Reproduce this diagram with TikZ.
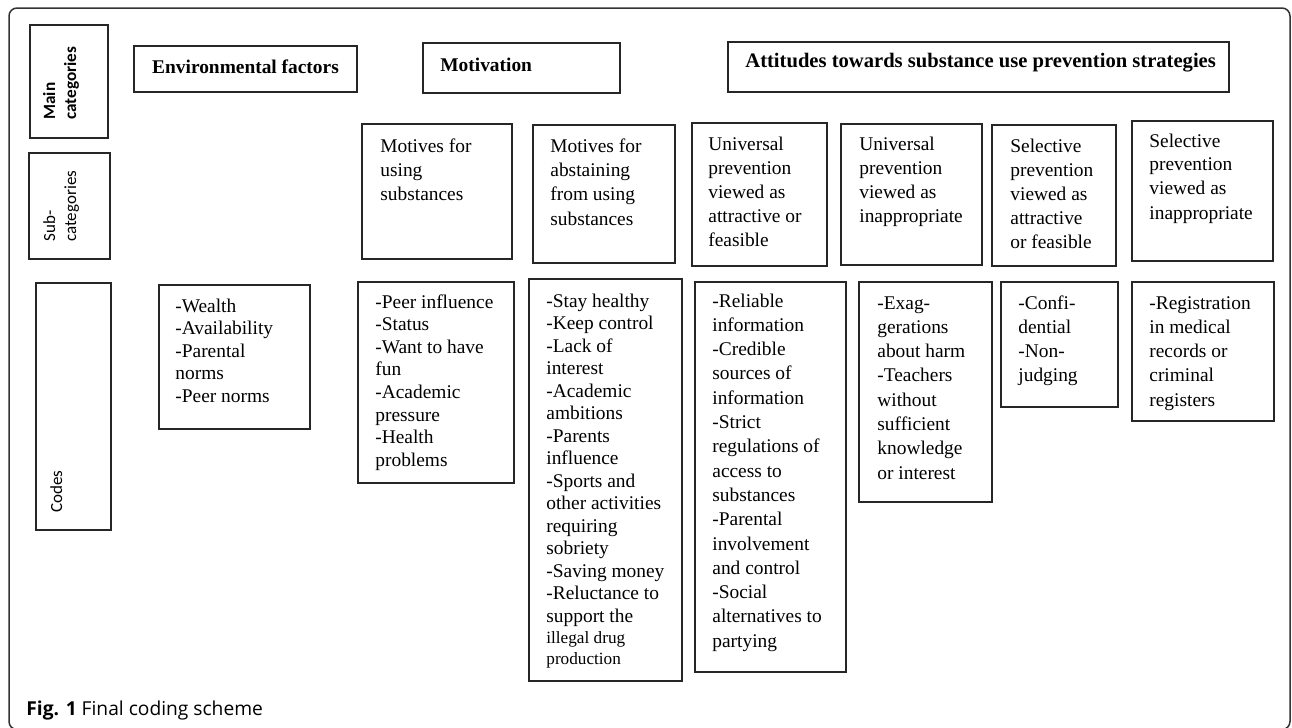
\documentclass[tikz,border=0pt]{standalone}
\usepackage{fontspec}
\usepackage{graphicx}
\setmainfont{Liberation Serif}
\newfontfamily\labfont{Carlito}
\newfontfamily\capfont{Open Sans}
\usetikzlibrary{fit}
\newcommand\lns[1]{\parbox[t]{130pt}{\raggedright #1}}
\begin{document}
\begin{tikzpicture}[x=0.5pt,y=-0.5pt,
  box/.style={draw=black!85, line width=0.75pt, inner sep=0pt},
  txt/.style={anchor=base west, inner sep=0pt},
  subf/.style={font=\fontsize{9.7}{12.25}\selectfont},
  subr/.style={font=\fontsize{9.7}{12.0}\selectfont},
  codl/.style={font=\fontsize{9.7}{11.3}\selectfont},
  codr/.style={font=\fontsize{9.7}{12.15}\selectfont},
  headf/.style={font=\bfseries\fontsize{9.7}{12}\selectfont},
  labf/.style={anchor=base west, inner sep=0pt, rotate=90, font=\labfont\fontsize{8.5}{10.5}\selectfont}]
\useasboundingbox (0,0) rectangle (1292,728);
\clip (0,0) rectangle (1292,728);
\draw[line width=0.75pt, black!80, rounded corners=4pt] (9,8) rectangle (1290,729.5);

% left labels
\node[box, fit={(30,25)(108,138)}] (mainlab) {};
\node[box, fit={(29,153)(110,259)}] (sublab) {};
\node[box, fit={(36,283)(111,530)}] (codlab) {};
\node[labf, font=\labfont\bfseries\fontsize{8.6}{10.5}\selectfont] (mainlabt) at (55,120) {\lns{Main\\categories}};
\node[labf] (sublabt) at (55,242) {\lns{Sub-\\categories}};
\node[labf] (codlabt) at (62,513) {\lns{Codes}};

% main category headers
\node[box, fit={(134,46)(357,92)}] (envh) {};
\node[txt, headf, anchor=base] (envht) at (245.5,73) {Environmental factors};
\node[box, fit={(423,43)(620,93)}] (moth) {};
\node[txt, headf] (motht) at (440,71) {Motivation};
\node[box, fit={(728,42)(1229,92)}] (atth) {};
\node[txt, headf, font=\bfseries\fontsize{10.3}{12}\selectfont] (attht) at (745,68) {Attitudes towards substance use prevention strategies};

% subcategories
\node[box, fit={(362,124)(512,259)}] (s1) {};
\node[txt, subf] (s1t) at (380,152) {\lns{Motives for\\using\\substances}};
\node[box, fit={(533,125)(675,263)}] (s2) {};
\node[txt, subf] (s2t) at (550,152) {\lns{Motives for\\abstaining\\from using\\substances}};
\node[box, fit={(692,123)(827,266)}] (s3) {};
\node[txt, subr] (s3t) at (708,150) {\lns{Universal\\prevention\\viewed as\\attractive or\\feasible}};
\node[box, fit={(841,124)(982,265)}] (s4) {};
\node[txt, subr] (s4t) at (859,150) {\lns{Universal\\prevention\\viewed as\\inappropriate}};
\node[box, fit={(992,125)(1116,266)}] (s5) {};
\node[txt, subr] (s5t) at (1010,152) {\lns{Selective\\prevention\\viewed as\\attractive\\or feasible}};
\node[box, fit={(1132,121)(1273,261)}] (s6) {};
\node[txt, subr] (s6t) at (1149,147) {\lns{Selective\\prevention\\viewed as\\inappropriate}};

% codes
\node[box, fit={(159,285)(310,429)}] (c0) {};
\node[txt, codl] (c0t) at (175,312) {\lns{-Wealth\\-Availability\\-Parental\\norms\\-Peer norms}};
\node[box, fit={(358,282)(514,483)}] (c1) {};
\node[txt, codl] (c1t) at (375,308) {\lns{-Peer influence\\-Status\\-Want to have\\fun\\-Academic\\pressure\\-Health\\problems}};
\node[box, fit={(529,279)(682,681)}] (c2) {};
\node[txt, codl, font=\fontsize{9.7}{11.25}\selectfont] (c2t) at (546,307) {\lns{-Stay healthy\\-Keep control\\-Lack of\\interest\\-Academic\\ambitions\\-Parents\\influence\\-Sports and\\other activities\\requiring\\sobriety\\-Saving money\\-Reluctance to\\support the\par
{\fontsize{8.6}{10.5}\selectfont illegal drug\\production\par}}};
\node[box, fit={(695,282)(846,672)}] (c3) {};
\node[txt, codr] (c3t) at (712,307) {\lns{-Reliable\\information\\-Credible\\sources of\\information\\-Strict\\regulations of\\access to\\substances\\-Parental\\involvement\\and control\\-Social\\alternatives to\\partying}};
\node[box, fit={(859,282)(992,502)}] (c4) {};
\node[txt, codr] (c4t) at (877,309) {\lns{-Exag-\\gerations\\about harm\\-Teachers\\without\\sufficient\\knowledge\\or interest}};
\node[box, fit={(1001,282)(1118,407)}] (c5) {};
\node[txt, codr] (c5t) at (1018,309) {\lns{-Confi-\\dential\\-Non-\\judging}};
\node[box, fit={(1132,282)(1274,421)}] (c6) {};
\node[txt, codr] (c6t) at (1149,309) {\lns{-Registration\\in medical\\records or\\criminal\\registers}};

% caption
\node[txt, font=\capfont\fontsize{9.6}{12}\selectfont] (cap) at (26,715) {\textbf{Fig. 1} Final coding scheme};
\end{tikzpicture}
\end{document}
